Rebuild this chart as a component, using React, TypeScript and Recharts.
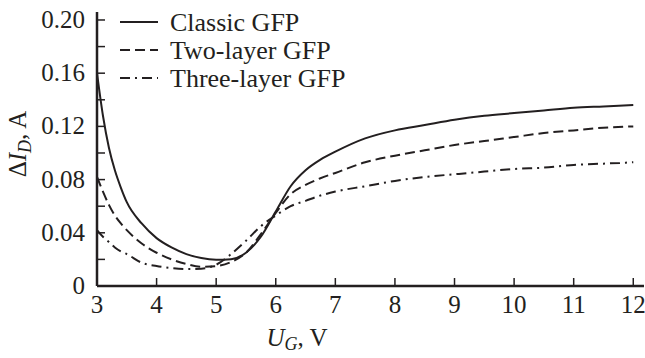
import React from 'react';
import { LineChart, Line, XAxis, YAxis } from 'recharts';

const xValues = [3, 3.1, 3.2, 3.3, 3.4, 3.5, 3.75, 4, 4.25, 4.5, 4.75, 5, 5.25, 5.5, 5.75, 6, 6.25, 6.5, 6.75, 7, 7.5, 8, 8.5, 9, 9.5, 10, 10.5, 11, 11.5, 12];
const classic = [0.16, 0.128, 0.104, 0.087, 0.074, 0.063, 0.047, 0.036, 0.029, 0.024, 0.021, 0.0198, 0.0202, 0.025, 0.037, 0.056, 0.075, 0.087, 0.095, 0.101, 0.111, 0.117, 0.121, 0.125, 0.128, 0.13, 0.132, 0.134, 0.135, 0.136];
const twoLayer = [0.082, 0.071, 0.061, 0.053, 0.047, 0.042, 0.032, 0.025, 0.02, 0.0165, 0.0145, 0.015, 0.018, 0.025, 0.039, 0.055, 0.069, 0.076, 0.081, 0.085, 0.093, 0.098, 0.102, 0.106, 0.109, 0.112, 0.115, 0.117, 0.119, 0.12];
const threeLayer = [0.042, 0.037, 0.033, 0.029, 0.026, 0.024, 0.0175, 0.015, 0.0135, 0.0128, 0.013, 0.016, 0.024, 0.034, 0.045, 0.053, 0.06, 0.064, 0.068, 0.071, 0.075, 0.079, 0.082, 0.084, 0.086, 0.088, 0.089, 0.091, 0.092, 0.093];

const xTicks = [3, 4, 5, 6, 7, 8, 9, 10, 11, 12];
const yTicks = [0, 0.02, 0.04, 0.06, 0.08, 0.1, 0.12, 0.14, 0.16, 0.18, 0.2];
const yLabelTicks = [0, 0.04, 0.08, 0.12, 0.16, 0.2];
const seriesNames = ['Classic GFP', 'Two-layer GFP', 'Three-layer GFP'];

const data = xValues.map((x, i) => ({ x, classic: classic[i], two: twoLayer[i], three: threeLayer[i] }));

const FONT = 'Liberation Serif';
const INK = '#231f20';
const DASH = '10 5';
const DASHDOT = '10 5 2 5';

const fmtY = (v: number) => (v === 0 ? '0' : v.toFixed(2));

const XTick = (props: any) => {
  const { x, y, payload } = props;
  return (
    <g>
      <line x1={x} y1={y} x2={x} y2={y - 8} stroke={INK} strokeWidth={1.5} />
      <text x={x} y={y + 27} textAnchor="middle" fontFamily={FONT} fontSize={25} fill={INK}>
        {payload.value}
      </text>
    </g>
  );
};

const YTick = (props: any) => {
  const { x, y, payload } = props;
  const v = payload.value as number;
  const show = yLabelTicks.some((t) => Math.abs(t - v) < 1e-6);
  return (
    <g>
      <line x1={x} y1={y} x2={x + 8} y2={y} stroke={INK} strokeWidth={1.5} />
      {show && (
        <text x={x - 12} y={y + 8} textAnchor="end" fontFamily={FONT} fontSize={25} fill={INK}>
          {fmtY(v)}
        </text>
      )}
    </g>
  );
};

export default function App() {
  const dashes = [undefined, DASH, DASHDOT];
  return (
    <div style={{ position: 'absolute', left: 0, top: 0, width: 645, height: 358, background: '#fff' }}>
      <LineChart width={645} height={358} data={data} margin={{ top: 12, right: 1, left: 0, bottom: 0 }}>
        <XAxis
          dataKey="x"
          type="number"
          domain={[3, 12.18]}
          ticks={xTicks}
          interval={0}
          height={72}
          tickSize={0}
          tickMargin={0}
          tickLine={false}
          tick={<XTick />}
          axisLine={{ stroke: INK, strokeWidth: 2.5 }}
          allowDataOverflow
        />
        <YAxis
          type="number"
          domain={[0, 0.206]}
          ticks={yTicks}
          interval={0}
          width={97}
          tickSize={0}
          tickMargin={0}
          tickLine={false}
          tick={<YTick />}
          axisLine={{ stroke: INK, strokeWidth: 2.5 }}
          allowDataOverflow
        />
        <Line type="monotone" dataKey="classic" stroke={INK} strokeWidth={2} dot={false} isAnimationActive={false} />
        <Line type="monotone" dataKey="two" stroke={INK} strokeWidth={2} strokeDasharray={DASH} dot={false} isAnimationActive={false} />
        <Line type="monotone" dataKey="three" stroke={INK} strokeWidth={2} strokeDasharray={DASHDOT} dot={false} isAnimationActive={false} />
      </LineChart>
      <svg width={645} height={358} style={{ position: 'absolute', left: 0, top: 0, pointerEvents: 'none' }}>
        {seriesNames.map((name, i) => (
          <g key={name}>
            <line x1={120} x2={158} y1={22 + i * 28} y2={22 + i * 28} stroke={INK} strokeWidth={2} strokeDasharray={dashes[i]} />
            <text x={170} y={31 + i * 28} fontFamily={FONT} fontSize={26} fill={INK}>
              {name}
            </text>
          </g>
        ))}
        <text transform="translate(26,144) rotate(-90)" textAnchor="middle" fontFamily={FONT} fontSize={25} fill={INK}>
          Δ<tspan fontStyle="italic">I</tspan>
          <tspan fontStyle="italic" fontSize={18} dy={5}>D</tspan>
          <tspan dy={-5}>, A</tspan>
        </text>
        <text x={297} y={346} textAnchor="middle" fontFamily={FONT} fontSize={25} fill={INK}>
          <tspan fontStyle="italic">U</tspan>
          <tspan fontStyle="italic" fontSize={18} dy={4}>G</tspan>
          <tspan dy={-4}>, V</tspan>
        </text>
      </svg>
    </div>
  );
}
